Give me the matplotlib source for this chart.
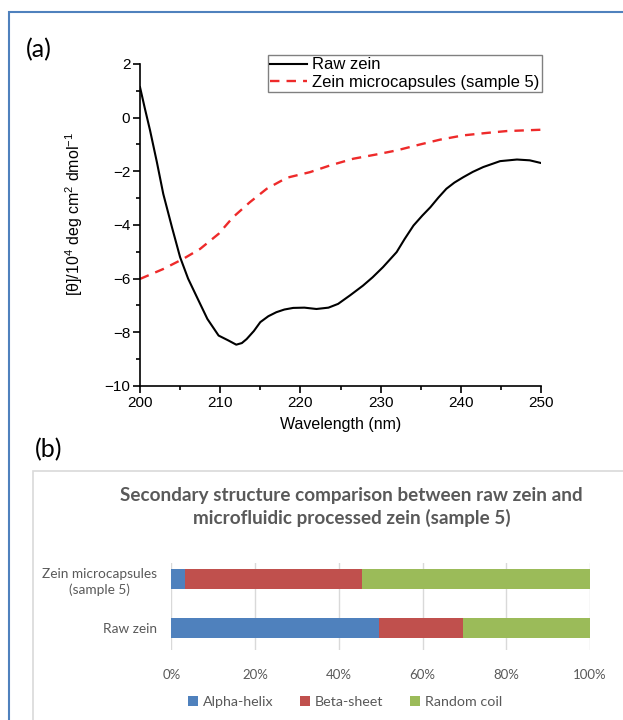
import matplotlib
matplotlib.use("Agg")
import matplotlib.pyplot as plt
from matplotlib.patches import Rectangle
from matplotlib.ticker import MultipleLocator, PercentFormatter

plt.rcParams['mathtext.fontset'] = 'custom'
plt.rcParams['mathtext.rm'] = 'Liberation Sans'
plt.rcParams['mathtext.default'] = 'regular'

# CD spectra
raw_wl = [200, 200.6, 201.25, 202.1, 202.9, 204, 205, 206, 207.1, 208.4, 209.8,
          211, 212, 212.7, 213.3, 214.2, 215, 216, 217, 218, 219.1, 220.5,
          222, 223.5, 224.7, 226.2, 227.8, 229, 230.3, 232, 233, 234.1, 235.2,
          236.2, 237.2, 238.2, 239.2, 240.3, 241.5, 242.8, 244.9, 247, 248.6, 250]
raw_cd = [1.14, 0.35, -0.47, -1.65, -2.84, -4.1, -5.2, -6.0, -6.69, -7.5, -8.12,
          -8.3, -8.46, -8.4, -8.25, -7.95, -7.62, -7.4, -7.25, -7.15, -7.09, -7.08,
          -7.13, -7.08, -6.94, -6.62, -6.26, -5.95, -5.57, -5.01, -4.52, -4.02, -3.65,
          -3.34, -2.98, -2.65, -2.42, -2.22, -2.02, -1.84, -1.62, -1.56, -1.59, -1.69]
cap_wl = [200, 202.9, 205.4, 207.5, 209.8, 211.6, 213.7, 215.8, 218.3, 221.2,
          223.7, 226.6, 229.5, 232, 234.9, 237.4, 240.3, 243.2, 245.7, 250]
cap_cd = [-6.01, -5.64, -5.26, -4.89, -4.33, -3.71, -3.15, -2.65, -2.24, -2.03,
          -1.78, -1.53, -1.37, -1.22, -1.0, -0.82, -0.66, -0.57, -0.5, -0.45]

# secondary structure fractions (%)
samples = ['Raw zein', 'Zein microcapsules\n(sample 5)']
alpha_helix = [49.6, 3.2]
beta_sheet = [20.0, 42.4]
random_coil = [30.4, 54.4]

W, H = 623, 720
fig = plt.figure(figsize=(W / 100, H / 100), dpi=100)

# outer blue frame and the grey box of panel (b)
fig.patches.append(Rectangle((9 / W, -0.1), 2, 1 - 12 / H + 0.1, transform=fig.transFigure,
                             fill=False, edgecolor='#4f81bd', linewidth=1.5))
fig.patches.append(Rectangle((33 / W, -0.1), 2, 1 - 471 / H + 0.1, transform=fig.transFigure,
                             fill=False, edgecolor='#d9d9d9', linewidth=1.2))

fig.text(26 / W, 1 - 50 / H, '(a)', family='Lato', fontsize=18, va='center')
fig.text(35 / W, 1 - 450 / H, '(b)', family='Lato', fontsize=18, va='center')

# ---- panel (a)
ax = fig.add_axes([140 / W, 1 - 386 / H, 401 / W, 322 / H])
ax.plot(raw_wl, raw_cd, color='black', linewidth=1.5, label='Raw zein')
ax.plot(cap_wl, cap_cd, color='#ee2a2a', linewidth=1.7, dashes=(4, 3),
        label='Zein microcapsules (sample 5)')
ax.set_xlim(200, 250)
ax.set_ylim(-10, 2)
ax.xaxis.set_major_locator(MultipleLocator(10))
ax.xaxis.set_minor_locator(MultipleLocator(5))
ax.yaxis.set_major_locator(MultipleLocator(2))
ax.yaxis.set_minor_locator(MultipleLocator(1))
ax.spines['top'].set_visible(False)
ax.spines['right'].set_visible(False)
for s in ['left', 'bottom']:
    ax.spines[s].set_linewidth(1.2)
ax.tick_params(which='major', length=5, width=1.2, labelsize=11, pad=2)
ax.tick_params(which='minor', length=3, width=1.2)
for lbl in ax.get_xticklabels() + ax.get_yticklabels():
    lbl.set_family('Liberation Sans')
ax.set_xlabel('Wavelength (nm)', family='Liberation Sans', fontsize=11.5, labelpad=5)
ax.set_ylabel(r'[θ]/10$^{4}$ deg cm$^{2}$ dmol$^{-1}$', family='Liberation Sans', fontsize=11.5)
ax.yaxis.set_label_coords(-0.137, 0.534)
leg = ax.legend(loc='upper left', bbox_to_anchor=(0.318, 1.028), borderaxespad=0,
                fancybox=False, edgecolor='#808080', framealpha=1, handlelength=2.2,
                handletextpad=0.3, borderpad=0.15, labelspacing=0.15,
                prop={'family': 'Liberation Sans', 'size': 12})
leg.get_frame().set_linewidth(1.0)

# ---- panel (b)
grey = '#595959'
bx = fig.add_axes([171.3 / W, 1 - 650 / H, 418.7 / W, 87 / H])
ypos = [0, 1]
bx.barh(ypos, alpha_helix, height=0.4, color='#4f81bd', label='Alpha-helix')
bx.barh(ypos, beta_sheet, left=alpha_helix, height=0.4, color='#c0504d', label='Beta-sheet')
left2 = [a + b for a, b in zip(alpha_helix, beta_sheet)]
bx.barh(ypos, random_coil, left=left2, height=0.4, color='#9bbb59', label='Random coil')
bx.set_xlim(0, 100)
bx.set_ylim(-0.45, 1.33)
bx.xaxis.set_major_locator(MultipleLocator(20))
bx.xaxis.set_major_formatter(PercentFormatter(decimals=0))
bx.grid(axis='x', color='#d9d9d9', linewidth=1)
bx.set_axisbelow(True)
for s in bx.spines.values():
    s.set_visible(False)
bx.set_yticks(ypos)
bx.set_yticklabels(samples, family='Lato', fontsize=9.8, color=grey, ha='right',
                   multialignment='center', linespacing=1.35)
bx.tick_params(axis='y', length=0, pad=10)
bx.tick_params(axis='x', length=0, pad=14, labelsize=9.5, labelcolor=grey)
for lbl in bx.get_xticklabels():
    lbl.set_family('Lato')
bx.set_title('Secondary structure comparison between raw zein and\nmicrofluidic processed zein (sample 5)',
             family='Lato', fontweight='bold', fontsize=13.6, color=grey, pad=28,
             linespacing=1.35, x=0.43)
bx.legend(loc='center', bbox_to_anchor=(0.415, -0.6), ncol=3, frameon=False,
          handlelength=0.7, handleheight=0.7, handletextpad=0.3, columnspacing=1.9,
          prop={'family': 'Lato', 'size': 10.3}, labelcolor=grey)

fig.savefig('out.png', dpi=100)
